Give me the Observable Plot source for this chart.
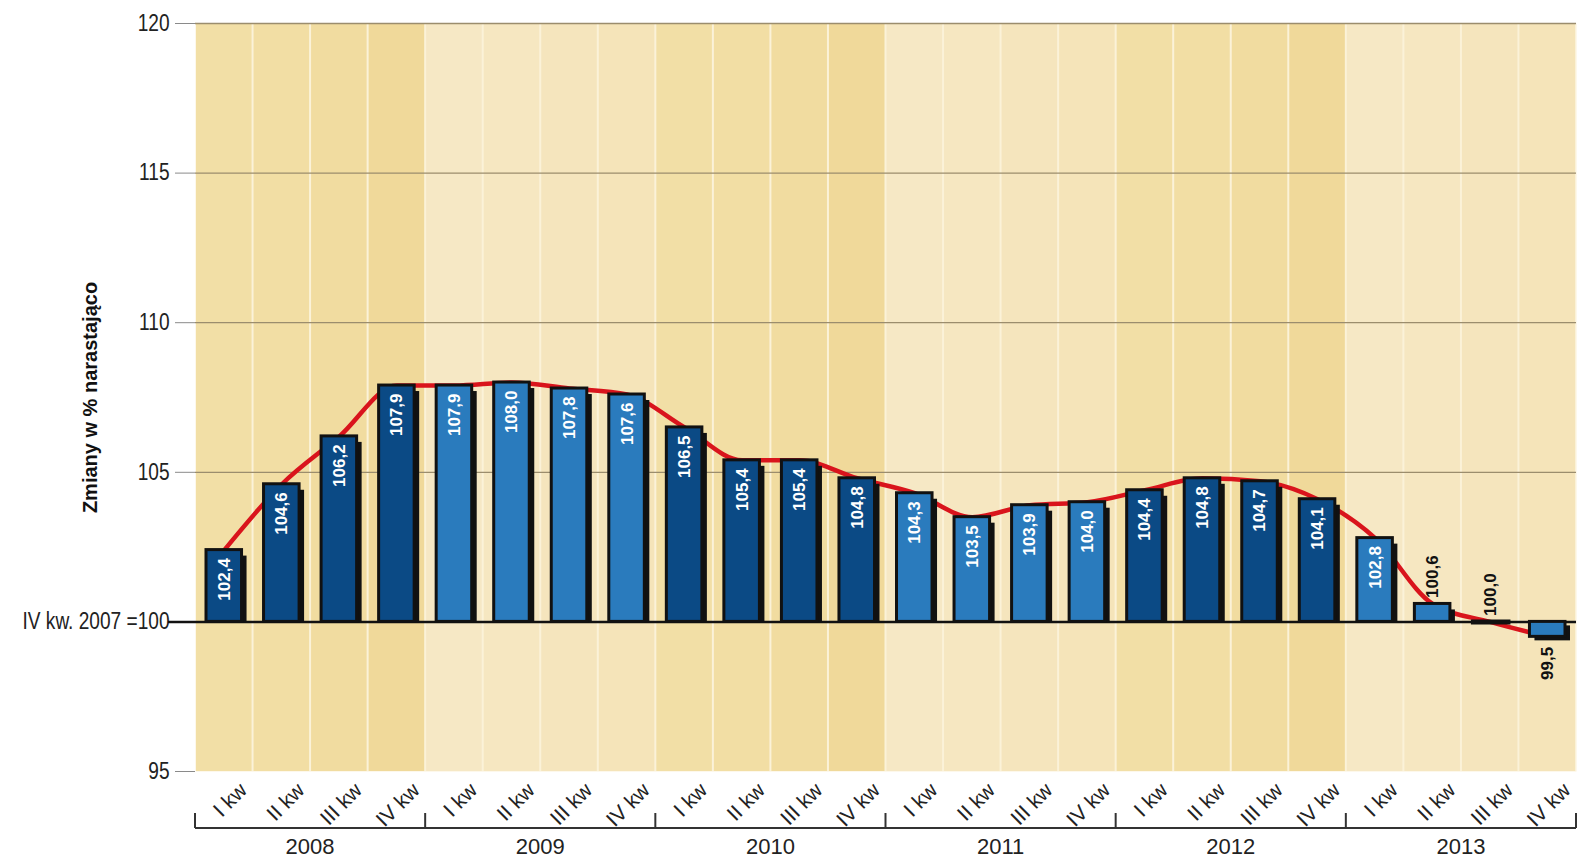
<!DOCTYPE html>
<html>
<head>
<meta charset="utf-8">
<script src="https://cdn.jsdelivr.net/npm/d3@7"></script>
<script src="https://cdn.jsdelivr.net/npm/@observablehq/plot@0.6"></script>
<style>
  html, body { margin: 0; padding: 0; background: #fff; }
  #chart svg { display: block; }
</style>
</head>
<body>
<div id="chart"></div>
<script>
// ---- data ----
const years = ["2008", "2009", "2010", "2011", "2012", "2013"];
const quarters = ["I kw", "II kw", "III kw", "IV kw"];
const values = [
  102.4, 104.6, 106.2, 107.9,
  107.9, 108.0, 107.8, 107.6,
  106.5, 105.4, 105.4, 104.8,
  104.3, 103.5, 103.9, 104.0,
  104.4, 104.8, 104.7, 104.1,
  102.8, 100.6, 100.0, 99.5
];
const yTicks = [95, 100, 105, 110, 115, 120];
const gridTicks = [105, 110, 115, 120];
const baseValue = 100;
const baseLabel = "IV kw. 2007 =100";
const yTitle = "Zmiany w % narastająco";

// ---- styles ----
const barDark = "#0b4a85";
const barLight = "#2a7bbd";
const bgDark = ["#f2dfa6", "#f2dea4", "#f1dca0", "#f0d99a"];
const bgLight = ["#f6e8c5", "#f6e7c1", "#f5e5bd", "#f5e4b9"];
const sepColor = "#fbf2d8";
const red = "#d9141c";

const rows = values.map((v, i) => {
  const yi = Math.floor(i / 4), qi = i % 4;
  return {key: years[yi] + " " + quarters[qi], year: years[yi], yi, q: quarters[qi], qi, v};
});
const keys = rows.map(d => d.key);
const fmt = v => v.toFixed(1).replace(".", ",");

const inside = rows.filter(d => d.v - baseValue >= 2);
const aboveSmall = rows.filter(d => d.v - baseValue < 2 && d.v >= baseValue);
const below = rows.filter(d => d.v < baseValue);
const pos = rows.filter(d => d.v > baseValue);
const neg = rows.filter(d => d.v < baseValue);
const zero = rows.filter(d => Math.abs(d.v - baseValue) < 0.05);

function yearAxis(index, scales, vals, dims) {
  const x = scales.x;
  const bw = x(keys[1]) - x(keys[0]);
  const y0 = dims.height - dims.marginBottom;
  const lineY = y0 + 57, tickTop = y0 + 42;
  const g = d3.create("svg:g");
  const left = x(keys[0]), right = x(keys[keys.length - 1]) + bw;
  g.append("line").attr("x1", left).attr("x2", right).attr("y1", lineY).attr("y2", lineY)
    .attr("stroke", "#333").attr("stroke-width", 2);
  years.forEach(yr => {
    const a = x(yr + " " + quarters[0]);
    const b = x(yr + " " + quarters[quarters.length - 1]) + bw;
    g.append("line").attr("x1", a).attr("x2", a).attr("y1", tickTop).attr("y2", lineY)
      .attr("stroke", "#333").attr("stroke-width", 2);
    g.append("text").attr("x", (a + b) / 2).attr("y", lineY + 26)
      .attr("text-anchor", "middle").attr("fill", "#222")
      .attr("font-family", "'Liberation Sans', Arial, sans-serif").attr("font-size", 22)
      .text(yr);
  });
  g.append("line").attr("x1", right).attr("x2", right).attr("y1", tickTop).attr("y2", lineY)
    .attr("stroke", "#333").attr("stroke-width", 2);
  return g.node();
}

const chart = Plot.plot({
  width: 1578,
  height: 859,
  marginLeft: 195,
  marginRight: 2,
  marginTop: 23,
  marginBottom: 88,
  x: {type: "band", domain: keys, padding: 0, round: false, axis: null},
  y: {domain: [95, 120], axis: null},
  style: {
    fontFamily: "'Liberation Sans', Arial, sans-serif",
    fontSize: "22px",
    color: "#222",
    background: "#fff"
  },
  marks: [
    Plot.frame({fill: sepColor, stroke: null}),
    Plot.barY(rows, {
      x: "key", y1: 95, y2: 120,
      fill: d => (d.yi % 2 === 0 ? bgDark : bgLight)[d.qi],
      insetLeft: 1, insetRight: 1
    }),
    Plot.gridY(gridTicks, {stroke: "#9b8d6d", strokeOpacity: 1, strokeWidth: 1.3}),
    Plot.axisY({
      ticks: yTicks, tickSize: 20, tickPadding: 6,
      tickFormat: d => d === baseValue ? baseLabel : String(d),
      stroke: "#8a8a8a", fill: "#222", fontSize: 23, label: null
    }),
    Plot.text([yTitle], {
      frameAnchor: "left", textAnchor: "middle", dx: -105, rotate: -90,
      fontWeight: "bold", fontSize: 20, fill: "#111"
    }),
    Plot.ruleY([baseValue], {stroke: "#111", strokeWidth: 2.5, insetLeft: -27}),
    Plot.line(rows, {x: "key", y: "v", stroke: red, strokeWidth: 4.5, curve: "monotone-x"}),
    // shadows
    Plot.barY(pos, {x: "key", y1: baseValue, y2: "v", fill: "#111", dx: 5, insetTop: 6, insetLeft: 11, insetRight: 11}),
    Plot.barY(neg, {x: "key", y1: baseValue, y2: "v", fill: "#111", dx: 5, dy: 4, insetLeft: 11, insetRight: 11}),
    // bars
    Plot.barY(rows.filter(d => d.v !== baseValue), {
      x: "key", y1: baseValue, y2: "v",
      fill: d => d.yi % 2 === 0 ? barDark : barLight,
      stroke: "#111", strokeWidth: 3, insetLeft: 11, insetRight: 11
    }),
    Plot.tickY(zero, {x: "key", y: "v", stroke: "#111", strokeWidth: 5, insetLeft: 10, insetRight: 8}),
    // value labels
    Plot.text(inside, {
      x: "key", y: "v", text: d => fmt(d.v), rotate: -90, textAnchor: "end", dy: 8,
      fill: "#fff", fontWeight: "bold", fontSize: 17
    }),
    Plot.text(aboveSmall, {
      x: "key", y: "v", text: d => fmt(d.v), rotate: -90, textAnchor: "start", dy: -6,
      fill: "#111", fontWeight: "bold", fontSize: 17
    }),
    Plot.text(below, {
      x: "key", y: "v", text: d => fmt(d.v), rotate: -90, textAnchor: "end", dy: 10,
      fill: "#111", fontWeight: "bold", fontSize: 17
    }),
    // quarter labels
    Plot.text(rows, {
      x: "key", y: 95, text: "q", rotate: -45, textAnchor: "end", lineAnchor: "bottom",
      dx: 24, dy: 20, fill: "#222", fontSize: 21, ariaLabel: "quarter label"
    }),
    yearAxis
  ]
});
document.getElementById("chart").appendChild(chart);

// condensed look for tick labels (narrow face is not installed)
function condense(selector, k) {
  chart.querySelectorAll(selector).forEach(t => {
    const L = t.getComputedTextLength();
    t.setAttribute("textLength", L * k);
    t.setAttribute("lengthAdjust", "spacingAndGlyphs");
  });
}
condense('g[aria-label="y-axis tick label"] text', 0.83);
condense('g[aria-label="quarter label"] text', 0.82);
</script>
</body>
</html>
